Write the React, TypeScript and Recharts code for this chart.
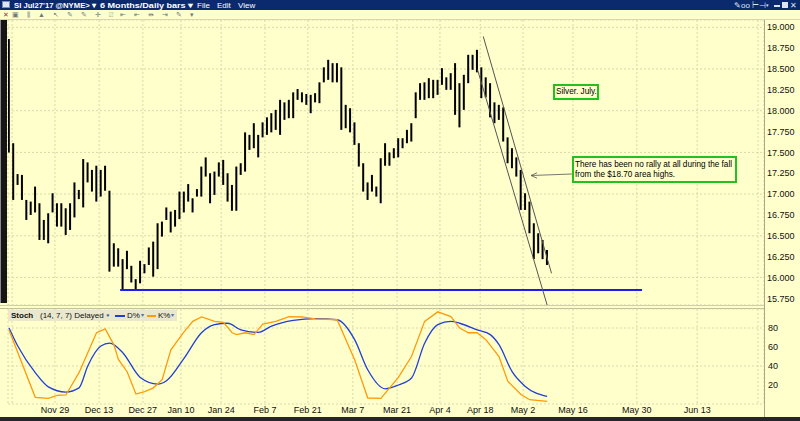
import React from 'react';
import { ComposedChart, Bar, Line, XAxis, YAxis, CartesianGrid, ReferenceLine } from 'recharts';

const BG = '#ffffcc';
const GRID = '#d6d9ae';

// daily bar highs / lows, Nov 2016 -> May 2017
const highs = [
  18.86, 17.61, 17.24, 17.23, 16.93, 16.91, 17.09, 16.89, 16.69, 16.77,
  17.01, 16.89, 16.89, 16.83, 16.89, 17.14, 17.05, 17.42, 17.38, 17.29,
  17.34, 17.29, 17.34, 17.04, 16.41, 16.35, 16.22, 16.32, 16.14, 15.98,
  16.2, 16.16, 16.36, 16.43, 16.65, 16.67, 16.84, 16.79, 16.81, 17.03,
  17.03, 17.12, 16.95, 17.06, 17.33, 17.44, 17.25, 17.27, 17.38, 17.41,
  17.25, 17.11, 17.33, 17.37, 17.74, 17.71, 17.85, 17.71, 17.86, 17.92,
  17.97, 18.01, 18.13, 18.1, 18.13, 18.22, 18.26, 18.22, 18.2, 18.19,
  18.21, 18.34, 18.52, 18.61, 18.57, 18.57, 18.52, 18.07, 18.03, 17.86,
  17.61, 17.37, 17.14, 17.23, 17.09, 17.43, 17.61, 17.5, 17.55, 17.67,
  17.67, 17.77, 17.85, 18.22, 18.33, 18.34, 18.39, 18.37, 18.37, 18.51,
  18.4, 18.45, 18.57, 18.33, 18.43, 18.67, 18.67, 18.73, 18.52, 18.4,
  18.33, 18.1, 18.07, 18.04, 17.68, 17.55, 17.44, 17.29, 17.01, 16.91,
  16.65, 16.53, 16.45, 16.33,
];
const lows = [
  17.5, 16.93, 17.11, 16.93, 16.69, 16.75, 16.78, 16.45, 16.45, 16.41,
  16.78, 16.61, 16.61, 16.51, 16.57, 16.72, 16.94, 16.84, 17.14, 17.03,
  16.91, 16.97, 17.04, 16.07, 16.13, 16.13, 15.86, 16.1, 15.94, 15.86,
  15.93, 16.05, 16.15, 16.01, 16.1, 16.49, 16.69, 16.54, 16.61, 16.7,
  16.78, 16.91, 16.78, 16.97, 16.97, 17.21, 16.89, 16.99, 17.21, 17.11,
  16.91, 16.8, 16.8, 17.23, 17.27, 17.53, 17.55, 17.44, 17.68, 17.71,
  17.74, 17.77, 17.71, 17.89, 17.91, 17.91, 18.13, 18.1, 18.07, 17.97,
  18.1, 18.09, 18.34, 18.37, 18.34, 18.34, 17.77, 17.79, 17.74, 17.59,
  17.33, 17.03, 16.93, 17.03, 16.97, 16.89, 17.34, 17.34, 17.43, 17.44,
  17.55, 17.61, 17.63, 17.91, 18.13, 18.13, 18.15, 18.15, 18.19, 18.31,
  18.25, 18.25, 17.95, 17.8, 18.01, 18.33, 18.49, 18.46, 18.15, 18.16,
  17.92, 17.85, 17.89, 17.63, 17.37, 17.31, 17.21, 16.81, 16.81, 16.53,
  16.22, 16.29, 16.22, 16.15,
];

const priceTicks = [15.75, 16, 16.25, 16.5, 16.75, 17, 17.25, 17.5, 17.75, 18, 18.25, 18.5, 18.75, 19];
const stochTicks = [20, 40, 60, 80];

// x positions in bar slots (future part of the axis runs on calendar days)
const dateTickPos = [0.7, 10.5, 20.6, 30.6, 39.3, 48.5, 58.5, 68.3, 78.6, 88.7, 98.5, 107.7, 117.5, 128.9, 143.5, 157.3, 171.2];
const dateTickLabels = ['', 'Nov 29', 'Dec 13', 'Dec 27', 'Jan 10', 'Jan 24', 'Feb 7', 'Feb 21', 'Mar 7', 'Mar 21', 'Apr 4', 'Apr 18', 'May 2', 'May 16', 'May 30', 'Jun 13', ''];

// stochastic (14,7,7) read at selected bars
const kIdx = [0, 6, 9, 11, 13, 16, 20, 22, 24, 25, 27, 29, 31, 33, 35, 37, 40, 42, 44, 47, 49, 51, 52, 54, 56, 58, 61, 64, 67, 70, 75, 79, 82, 85, 89, 92, 95, 98, 101, 103, 105, 107, 109, 112, 114, 117, 119, 123];
const kVal = [78, 7, 6, 9, 9.5, 33, 75, 79, 62, 47, 34, 10.5, 13, 17, 25.6, 57, 76, 87, 91.6, 87, 86, 75, 73, 75, 73, 84, 87, 92, 91.6, 89.5, 88.7, 46.6, 6.3, 6, 28, 50, 87, 97, 92, 80, 75, 75, 67.7, 50, 24, 10, 4.5, 2.7];
const dIdx = [0, 2, 6, 9, 13, 16, 18, 21, 23, 26, 30, 34, 36, 40, 44, 47, 50, 53, 57, 60, 65, 70, 75, 79, 82, 86, 89, 92, 95, 98, 101, 103, 107, 110, 112, 115, 118, 123];
const dVal = [80, 61, 33, 18, 12.6, 17, 40, 61, 64, 54, 28, 21, 24.5, 48, 75, 83.5, 85, 78, 75.4, 82, 88, 89.8, 88.7, 67.7, 36, 16, 20, 27.4, 64, 83.5, 87, 85, 78, 73, 62.4, 34, 18.5, 8];

// annotations
const supportLevel = 15.85;
const supportFrom = 25.4;
const supportTo = 144.7;
const channelUpper = [{ x: 108.4, y: 18.89 }, { x: 124.0, y: 16.05 }];
const channelLower = [{ x: 107.1, y: 18.49 }, { x: 123.0, y: 15.67 }];

const X_DOMAIN: [number, number] = [-0.23, 172.57];

const barData = highs.map((h, i) => ({ i, range: [lows[i], h] }));
const kData = kIdx.map((x, j) => ({ i: x, k: kVal[j] }));
const dData = dIdx.map((x, j) => ({ i: x, d: dVal[j] }));

const font = '"Liberation Sans", Arial, sans-serif';
const tickStyle = { fontSize: 9, fill: '#111', fontFamily: font };

function fmtDate(v: number) {
  const j = dateTickPos.indexOf(v);
  return j >= 0 ? dateTickLabels[j] : '';
}

function TitleBar() {
  return (
    <svg style={{ position: 'absolute', left: 0, top: 0 }} width={800} height={10}>
      <rect x={0} y={0} width={800} height={10} fill="#0b2a6e" />
      <rect x={2.5} y={1.5} width={7} height={6} fill="#dfe6f0" stroke="#7a8fb8" />
      <g fill="#fff" fontFamily={font} fontSize={8}>
        <text x={14} y={8} fontSize={7.5} fontWeight="bold" textLength={82} lengthAdjust="spacingAndGlyphs">SI Jul27'17 @NYME&gt; ▾</text>
        <text x={100} y={8} fontSize={7.5} fontWeight="bold" textLength={93} lengthAdjust="spacingAndGlyphs">6 Months/Daily bars ▾</text>
        <text x={197} y={8}>File</text>
        <text x={217} y={8}>Edit</text>
        <text x={238} y={8}>View</text>
      </g>
      <g fill="#dde4f0" fontFamily={font} fontSize={8}>
        <text x={734} y={8}>✎</text>
        <text x={741} y={8}>oo</text>
        <text x={752} y={8}>⊢⊣</text>
        <text x={766} y={7} fontSize={5}>▾</text>
        <rect x={774} y={5} width={6} height={2} />
        <rect x={782} y={2} width={6} height={6} />
        <text x={790} y={8}>✕</text>
      </g>
    </svg>
  );
}

export default function App() {
  return (
    <div style={{ position: 'absolute', left: 0, top: 0, width: 800, height: 421, background: BG, overflow: 'hidden', fontFamily: font }}>
      <TitleBar />
      {/* toolbar */}
      <div style={{ position: 'absolute', left: 0, top: 10, width: 800, height: 10, borderBottom: '1px solid #d8d8b0', boxSizing: 'border-box', fontSize: 7, lineHeight: '9px', color: '#777' }}>
        <span style={{ position: 'absolute', left: 3, color: '#933' }}>✕</span>
        <span style={{ position: 'absolute', left: 12, letterSpacing: 3 }}>▣ ⫼ ▲ ↖ ✎ ✎ ✛ ⍁ ⇤ ⇤ ⇹ ⇥ ✎ ▾</span>
      </div>
      {/* left scroll strip */}
      <div style={{ position: 'absolute', left: 0, top: 20, width: 7, height: 283, background: '#151515', borderLeft: '1px solid #888', boxSizing: 'border-box' }} />

      {/* price panel */}
      <div style={{ position: 'absolute', left: 0, top: 20 }}>
        <ComposedChart width={800} height={285} data={barData} margin={{ top: 0, right: 0, bottom: 0, left: 8 }}>
          <CartesianGrid stroke={GRID} strokeDasharray="2 2" />
          <XAxis dataKey="i" type="number" domain={X_DOMAIN} ticks={dateTickPos} allowDataOverflow hide />
          <YAxis
            orientation="right"
            width={36}
            domain={[15.67, 19.0875]}
            ticks={priceTicks}
            allowDataOverflow
            axisLine={false}
            tickLine={false}
            tickSize={2}
            tickMargin={1}
            tick={tickStyle}
            tickFormatter={(v: number) => v.toFixed(3)}
          />
          <Bar dataKey="range" fill="#000" barSize={2} isAnimationActive={false} />
          <ReferenceLine
            segment={[{ x: supportFrom, y: supportLevel }, { x: supportTo, y: supportLevel }]}
            stroke="#1c1cf0"
            strokeWidth={2}
            ifOverflow="visible"
          />
          <ReferenceLine segment={channelUpper} stroke="#555" strokeWidth={1} ifOverflow="visible" />
          <ReferenceLine segment={channelLower} stroke="#555" strokeWidth={1} ifOverflow="visible" />
        </ComposedChart>
      </div>

      {/* panel separator */}
      <div style={{ position: 'absolute', left: 0, top: 305, width: 764, height: 4, borderTop: '1px solid #cfcfa8', borderBottom: '1px solid #bdbd98', boxSizing: 'border-box' }} />

      {/* stochastic panel */}
      <div style={{ position: 'absolute', left: 0, top: 305 }}>
        <ComposedChart width={800} height={112} margin={{ top: 4, right: 0, bottom: 0, left: 8 }}>
          <CartesianGrid stroke={GRID} strokeDasharray="2 2" />
          <XAxis
            dataKey="i"
            type="number"
            domain={X_DOMAIN}
            ticks={dateTickPos}
            interval={0}
            allowDataOverflow
            height={13}
            axisLine={false}
            tickLine={false}
            tickSize={2}
            tickMargin={1}
            tick={tickStyle}
            tickFormatter={fmtDate}
          />
          <YAxis
            orientation="right"
            width={36}
            domain={[0, 100]}
            ticks={stochTicks}
            allowDataOverflow
            axisLine={false}
            tickLine={false}
            tickSize={2}
            tickMargin={2}
            tick={tickStyle}
          />
          <Line data={dData} dataKey="d" type="monotone" stroke="#1f3fd6" strokeWidth={1.3} dot={false} isAnimationActive={false} />
          <Line data={kData} dataKey="k" type="linear" stroke="#ff9a0a" strokeWidth={1.3} dot={false} isAnimationActive={false} />
        </ComposedChart>
      </div>

      {/* stoch legend */}
      <div style={{ position: 'absolute', left: 8, top: 310, width: 169, height: 11, background: '#e9e8cc', fontSize: 8, lineHeight: '11px', color: '#111', whiteSpace: 'nowrap' }}>
        <span style={{ position: 'absolute', left: 3, fontWeight: 'bold' }}>Stoch</span>
        <span style={{ position: 'absolute', left: 32 }}>(14, 7, 7) Delayed</span>
        <span style={{ position: 'absolute', left: 98, color: '#4a6fb0', fontSize: 6 }}>●</span>
        <span style={{ position: 'absolute', left: 107, top: 5, width: 10, height: 1.5, background: '#1f3fd6' }} />
        <span style={{ position: 'absolute', left: 119 }}>D%</span>
        <span style={{ position: 'absolute', left: 133, color: '#4a6fb0', fontSize: 6 }}>▾</span>
        <span style={{ position: 'absolute', left: 139, top: 5, width: 9, height: 1.5, background: '#ff9a0a' }} />
        <span style={{ position: 'absolute', left: 150 }}>K%</span>
        <span style={{ position: 'absolute', left: 163, color: '#4a6fb0', fontSize: 6 }}>▾</span>
      </div>

      {/* right axis border */}
      <div style={{ position: 'absolute', left: 764, top: 20, width: 1, height: 397, background: '#a8a890' }} />

      {/* text annotations */}
      <div style={{ position: 'absolute', left: 553, top: 84, width: 46, height: 16, border: '2px solid #1fc21f', boxSizing: 'border-box', background: BG, fontSize: 8.2, lineHeight: '12px', paddingLeft: 1, color: '#000', whiteSpace: 'nowrap' }}>
        Silver. July.
      </div>
      <div style={{ position: 'absolute', left: 572, top: 156, width: 165, height: 27, border: '2px solid #1fc21f', boxSizing: 'border-box', background: BG, fontSize: 8.2, lineHeight: '10px', padding: '2px 0 0 1px', color: '#000', whiteSpace: 'nowrap' }}>
        There has been no rally at all during the fall
        <br />
        from the $18.70 area highs.
      </div>
      <svg style={{ position: 'absolute', left: 0, top: 0 }} width={800} height={421}>
        <line x1={572} y1={174} x2={531} y2={175.5} stroke="#555" strokeWidth={0.8} />
        <polyline points="537,172.8 531,175.5 537,178.2" fill="none" stroke="#555" strokeWidth={0.8} />
      </svg>

      {/* bottom strip */}
      <div style={{ position: 'absolute', left: 0, top: 417, width: 800, height: 4, background: '#262626' }} />
    </div>
  );
}
